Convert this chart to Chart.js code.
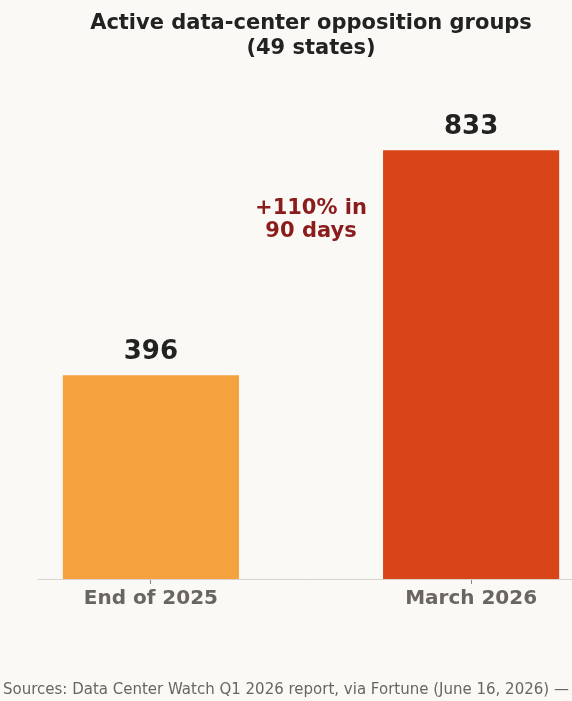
<!DOCTYPE html>
<html>
<head>
<meta charset="utf-8">
<script src="https://cdn.jsdelivr.net/npm/chart.js@4/dist/chart.umd.min.js"></script>
<style>
  html, body { margin: 0; padding: 0; background: #faf9f5; overflow: hidden; }
  #wrap { width: 584px; height: 701px; position: relative; }
</style>
</head>
<body>
<div id="wrap"><canvas id="groupsChart"></canvas></div>
<script>
const categories = ['End of 2025', 'March 2026'];
const groupCounts = [396, 833];
const barColors = ['#f4a13e', '#d84519'];
const annotationLines = ['+110% in', '90 days'];
const sourceNote = 'Sources: Data Center Watch Q1 2026 report, via Fortune (June 16, 2026) —';

const FONT = '"DejaVu Sans", sans-serif';

// value labels above bars
const valueLabels = {
    id: 'valueLabels',
    afterDatasetsDraw(chart) {
        const ctx = chart.ctx;
        const meta = chart.getDatasetMeta(0);
        ctx.save();
        ctx.font = 'bold 26px ' + FONT;
        ctx.fillStyle = '#222222';
        ctx.textAlign = 'center';
        ctx.textBaseline = 'bottom';
        meta.data.forEach((bar, i) => {
            ctx.fillText(String(groupCounts[i]), bar.x, bar.y - 10);
        });
        ctx.restore();
    }
};

// growth note between bars + sources line
const notes = {
    id: 'notes',
    afterDraw(chart) {
        const ctx = chart.ctx;
        const x = chart.scales.x.getPixelForValue(0.5);
        const y = chart.scales.y.getPixelForValue(697);
        ctx.save();
        ctx.font = 'bold 21px ' + FONT;
        ctx.fillStyle = '#8b1c1c';
        ctx.textAlign = 'center';
        ctx.textBaseline = 'middle';
        ctx.fillText(annotationLines[0], x, y - 11.5);
        ctx.fillText(annotationLines[1], x, y + 11.5);

        ctx.font = '15px ' + FONT;
        ctx.fillStyle = '#6b6560';
        ctx.textAlign = 'left';
        ctx.fillText(sourceNote, 3, 690);
        ctx.restore();
    }
};

const ctx = document.getElementById('groupsChart').getContext('2d');
new Chart(ctx, {
    type: 'bar',
    data: {
        datasets: [{
            data: groupCounts.map((v, i) => ({ x: i, y: v })),
            backgroundColor: barColors,
            borderWidth: 0,
            categoryPercentage: 1,
            barPercentage: 0.55
        }]
    },
    options: {
        responsive: true,
        maintainAspectRatio: false,
        animation: false,
        layout: { padding: { left: 38, right: 0, top: 0, bottom: 87 } },
        plugins: {
            legend: { display: false },
            tooltip: { enabled: false },
            title: {
                display: true,
                text: ['Active data-center opposition groups', '(49 states)'],
                color: '#222222',
                font: { family: FONT, size: 21, weight: 'bold', lineHeight: 1.2 },
                padding: { top: 11, bottom: 3 }
            }
        },
        scales: {
            x: {
                type: 'linear',
                offset: false,
                min: -0.3525,
                max: 1.3525,
                afterBuildTicks: (scale) => {
                    scale.ticks = categories.map((c, i) => ({ value: i }));
                },
                ticks: {
                    callback: (value) => categories[value],
                    color: '#6b6560',
                    font: { family: FONT, size: 20, weight: 'bold' },
                    padding: 3,
                    autoSkip: false,
                    maxRotation: 0
                },
                grid: { offset: false, drawOnChartArea: false, tickLength: 5, color: '#8a8580' },
                border: { display: true, color: '#d6d2cc', width: 1 }
            },
            y: {
                display: false,
                min: 0,
                max: 1000
            }
        }
    },
    plugins: [valueLabels, notes]
});
</script>
</body>
</html>
